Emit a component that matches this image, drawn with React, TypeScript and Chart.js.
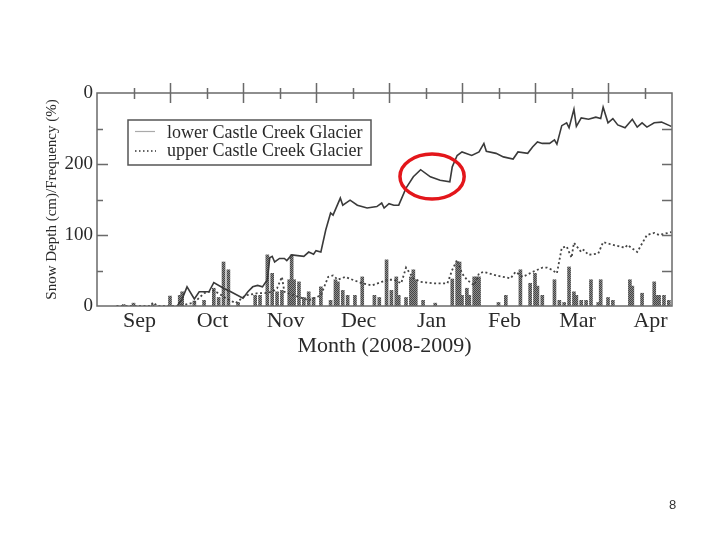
import React, { useEffect, useRef } from "react";
import { Chart, registerables } from "chart.js";

Chart.register(...registerables);

// ---------- data ----------
const MONTHS = ["Sep", "Oct", "Nov", "Dec", "Jan", "Feb", "Mar", "Apr"];
const MONTH_LABEL_DAYS = [17.5, 47.5, 77.5, 107.5, 137.5, 167.5, 197.5, 227.5];
const MAJOR_TICK_DAYS = [30, 60, 90, 120, 150, 180, 210];
const MINOR_TICK_DAYS = [15, 45, 75, 105, 135, 165, 195, 225];
const X_MIN = 0;
const X_MAX = 236.3;
const Y_TICKS = [0, 100, 200, 300];
const Y_TICK_LABELS = ["0", "100", "200", "0"];
const Y_MINOR_TICKS = [50, 150, 250];
const Y_MAJOR_INNER = [100, 200];
const Y_RIGHT_TICKS = [50, 100, 150, 200, 250];

const LOWER_DAYS = [33,35,37,40,42,46,48,52,55,60,62,64,66,68,70,71,72,73,75,77,78,80,85,87,89,90,92,94,96,97,100,101,104,107,111,115,117,118,120,122,124,127,130,133,137,141,145,146,148,150,154,157,159,160,164,167,171,173,177,179,181,183,186,188,189,191,193,194,196,197,199,202,205,207,208,210,212,214,217,220,222,224,226,229,232,236];
const LOWER_DEPTH = [0,10,27,10,20,20,33,25,20,11,20,27,29,27,37,68,70,62,67,67,64,72,70,76,73,78,76,107,131,128,152,142,149,142,138,140,145,138,144,142,142,166,182,192,182,177,175,196,212,217,212,217,229,218,215,210,207,217,215,224,231,229,229,234,228,254,258,251,277,253,265,263,266,264,280,258,264,255,251,263,252,258,252,258,259,253];

const UPPER_DAYS = [8,22,23,25,34,40,44,48,53,57,61,66,69,72,74,76,77,81,87,92,95,97,99,102,105,109,113,117,120,122,125,127,130,133,138,144,146,148,150,152,155,157,159,164,170,172,175,179,183,185,187,189,191,193,195,196,199,200,202,206,208,212,217,218,222,226,229,231,236];
const UPPER_DEPTH = [0,0,5,0,0,5,18,22,11,4,15,18,18,20,25,41,20,15,8,15,41,43,37,41,37,32,29,34,37,37,32,54,39,34,32,32,51,65,46,37,29,46,48,43,39,48,41,48,54,54,51,46,82,84,68,89,76,79,72,74,90,86,82,86,76,100,103,100,104];

const FREQ_DAYS = [11,15,23,30,34,35,40,44,48,50,52,54,58,65,67,70,72,74,76,79,80,81,83,85,87,89,92,96,98,99,101,103,106,109,114,116,119,121,123,124,127,129,130,131,134,139,146,148,149,150,152,153,155,156,157,165,168,174,178,180,181,183,188,190,192,194,196,197,199,201,203,206,207,210,212,219,220,224,229,230,231,233,235];
const FREQ_PCT = [2,4,2,14,15,20,7,8,25,12,62,51,5,15,15,72,46,20,22,37,72,37,34,12,20,12,27,8,37,34,22,15,15,41,15,12,65,22,41,15,12,41,51,37,8,4,38,61,62,15,25,15,41,41,41,5,15,51,32,46,28,15,37,8,5,55,20,15,8,8,37,5,37,12,8,37,28,18,34,15,15,15,8];

const SERIES_NAMES = ["lower Castle Creek Glacier", "upper Castle Creek Glacier"];
const X_TITLE = "Month (2008-2009)";
const Y_TITLE = "Snow Depth (cm)/Frequency (%)";

// highlight ellipse (data units)
const HIGHLIGHT_DAY = 137.7;
const HIGHLIGHT_VALUE = 182.4;
const HIGHLIGHT_RX_DAYS = 13.2;
const HIGHLIGHT_RY_VALUE = 31.7;

const SERIF = '"Liberation Serif", "Times New Roman", serif';
const TEXT_COLOR = "#2a2a2a";

const framePlugin = {
  id: "frameAndExtras",
  afterDraw(chart: any) {
    const { ctx, chartArea: a, scales } = chart;
    const x = scales.x;
    const y = scales.y;
    ctx.save();
    // frame
    ctx.strokeStyle = "#6a6a6a";
    ctx.lineWidth = 1.5;
    ctx.strokeRect(a.left, a.top, a.right - a.left, a.bottom - a.top);
    ctx.beginPath();
    for (const d of MAJOR_TICK_DAYS) {
      const px = Math.round(x.getPixelForValue(d)) + 0.5;
      ctx.moveTo(px, a.top - 10);
      ctx.lineTo(px, a.top + 10);
    }
    for (const d of MINOR_TICK_DAYS) {
      const px = Math.round(x.getPixelForValue(d)) + 0.5;
      ctx.moveTo(px, a.top - 5);
      ctx.lineTo(px, a.top + 6);
    }
    for (const v of Y_MAJOR_INNER) {
      const py = Math.round(y.getPixelForValue(v)) + 0.5;
      ctx.moveTo(a.left, py);
      ctx.lineTo(a.left + 11, py);
    }
    for (const v of Y_MINOR_TICKS) {
      const py = Math.round(y.getPixelForValue(v)) + 0.5;
      ctx.moveTo(a.left, py);
      ctx.lineTo(a.left + 6, py);
    }
    for (const v of Y_RIGHT_TICKS) {
      const py = Math.round(y.getPixelForValue(v)) + 0.5;
      ctx.moveTo(a.right, py);
      ctx.lineTo(a.right - 10, py);
    }
    ctx.stroke();

    // legend
    const lx = a.left + 31;
    const ly = a.top + 27;
    const lw = 243;
    const lh = 45;
    ctx.lineWidth = 1.5;
    ctx.strokeStyle = "#555";
    ctx.strokeRect(lx, ly, lw, lh);
    ctx.font = `18px ${SERIF}`;
    ctx.fillStyle = TEXT_COLOR;
    ctx.textBaseline = "middle";
    ctx.textAlign = "left";
    ctx.beginPath();
    ctx.strokeStyle = "#aaaaaa";
    ctx.lineWidth = 1.2;
    ctx.moveTo(lx + 7, ly + 11.5);
    ctx.lineTo(lx + 27, ly + 11.5);
    ctx.stroke();
    ctx.beginPath();
    ctx.strokeStyle = "#333";
    ctx.setLineDash([1.5, 2.5]);
    ctx.lineWidth = 1.5;
    ctx.moveTo(lx + 7, ly + 31);
    ctx.lineTo(lx + 28, ly + 31);
    ctx.stroke();
    ctx.setLineDash([]);
    ctx.fillText(SERIES_NAMES[0], lx + 39, ly + 13);
    ctx.fillText(SERIES_NAMES[1], lx + 39, ly + 31);

    // highlight ellipse
    const cx = x.getPixelForValue(HIGHLIGHT_DAY);
    const cy = y.getPixelForValue(HIGHLIGHT_VALUE);
    const rx = Math.abs(x.getPixelForValue(HIGHLIGHT_DAY + HIGHLIGHT_RX_DAYS) - cx);
    const ry = Math.abs(y.getPixelForValue(HIGHLIGHT_VALUE + HIGHLIGHT_RY_VALUE) - cy);
    ctx.beginPath();
    ctx.strokeStyle = "#e3161b";
    ctx.lineWidth = 3.5;
    ctx.ellipse(cx, cy, rx, ry, 0, 0, Math.PI * 2);
    ctx.stroke();
    ctx.restore();
  },
};

export default function App() {
  const ref = useRef<HTMLCanvasElement | null>(null);

  useEffect(() => {
    const canvas = ref.current;
    if (!canvas) return;
    const ctx = canvas.getContext("2d")!;

    const pc = document.createElement("canvas");
    pc.width = 2;
    pc.height = 2;
    const p = pc.getContext("2d")!;
    p.fillStyle = "#8c8c8c";
    p.fillRect(0, 0, 2, 2);
    p.fillStyle = "#444444";
    p.fillRect(0, 0, 1, 1);
    p.fillRect(1, 1, 1, 1);
    const pattern = ctx.createPattern(pc, "repeat");

    const chart = new Chart(canvas, {
      type: "bar",
      data: {
        datasets: [
          {
            type: "line",
            label: SERIES_NAMES[0],
            data: LOWER_DAYS.map((d, i) => ({ x: d, y: LOWER_DEPTH[i] })),
            borderColor: "#3a3a3a",
            borderWidth: 1.6,
            pointRadius: 0,
            tension: 0,
            order: 1,
          },
          {
            type: "line",
            label: SERIES_NAMES[1],
            data: UPPER_DAYS.map((d, i) => ({ x: d, y: UPPER_DEPTH[i] })),
            borderColor: "#444",
            borderWidth: 1.8,
            borderDash: [2, 2.5],
            pointRadius: 0,
            tension: 0,
            order: 1,
          },
          {
            type: "bar",
            label: "frequency",
            data: FREQ_DAYS.map((d, i) => ({ x: d, y: FREQ_PCT[i] })),
            backgroundColor: pattern as any,
            borderWidth: 0,
            barThickness: 3,
            order: 2,
          } as any,
        ],
      },
      options: {
        animation: false,
        responsive: false,
        devicePixelRatio: 1,
        layout: { padding: { left: 30, right: 48, top: 93, bottom: 174 } },
        plugins: { legend: { display: false }, tooltip: { enabled: false } },
        scales: {
          x: {
            type: "linear",
            position: "bottom",
            min: X_MIN,
            max: X_MAX,
            offset: false,
            grid: { display: false, drawTicks: false },
            border: { display: false },
            afterBuildTicks: (scale: any) => {
              scale.ticks = MONTH_LABEL_DAYS.map((v) => ({ value: v }));
            },
            afterFit: (scale: any) => {
              scale.height = 60;
            },
            ticks: {
              autoSkip: false,
              maxRotation: 0,
              minRotation: 0,
              padding: 2,
              color: TEXT_COLOR,
              font: { family: SERIF, size: 22 },
              callback: (_v: any, i: number) => MONTHS[i],
            },
            title: {
              display: true,
              text: X_TITLE,
              color: TEXT_COLOR,
              font: { family: SERIF, size: 22 },
              padding: { top: 0, bottom: 7 },
            },
          },
          y: {
            type: "linear",
            position: "left",
            min: 0,
            max: 300,
            grid: { display: false, drawTicks: false },
            border: { display: false },
            afterBuildTicks: (scale: any) => {
              scale.ticks = Y_TICKS.map((v) => ({ value: v }));
            },
            afterFit: (scale: any) => {
              scale.width = 67;
            },
            ticks: {
              padding: 4,
              color: TEXT_COLOR,
              font: { family: SERIF, size: 19 },
              callback: (v: any) => {
                const i = Y_TICKS.indexOf(Number(v));
                return i >= 0 ? Y_TICK_LABELS[i] : "";
              },
            },
            title: {
              display: true,
              text: Y_TITLE,
              color: TEXT_COLOR,
              font: { family: SERIF, size: 15 },
              padding: { top: 13, bottom: 0 },
            },
          },
        },
      } as any,
      plugins: [framePlugin],
    });

    return () => chart.destroy();
  }, []);

  return (
    <div style={{ position: "absolute", left: 0, top: 0, width: 720, height: 540, background: "#fff" }}>
      <canvas ref={ref} width={720} height={540} style={{ display: "block" }} />
      <div
        style={{
          position: "absolute",
          left: 669,
          top: 497,
          fontFamily: '"Liberation Sans", Arial, sans-serif',
          fontSize: 13,
          lineHeight: "16px",
          color: "#333",
        }}
      >
        8
      </div>
    </div>
  );
}
